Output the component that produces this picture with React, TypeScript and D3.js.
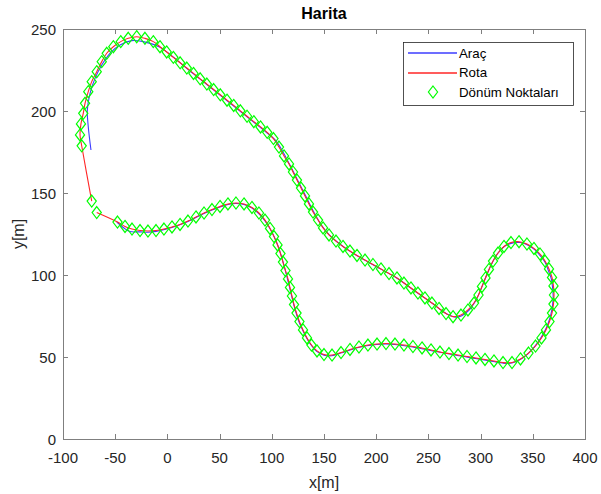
import React from 'react'
import * as d3 from 'd3'

const W = 601
const H = 494
const box = { left: 63, right: 585, top: 29, bottom: 439 }

const xTicks = [-100, -50, 0, 50, 100, 150, 200, 250, 300, 350, 400]
const yTicks = [0, 50, 100, 150, 200, 250]

// Dönüm noktaları, one array per part of the track
const turnsLeft: [number, number][] = [
  [-72.5, 145.1], [-82.1, 178.8], [-83.7, 185.4], [-82.8, 192.1], [-80.6, 198.6], [-78.9, 204.7],
  [-75.8, 211.8], [-72.5, 217.9], [-67.7, 224.0], [-62.9, 230.1], [-58.1, 235.2], [-51.8, 239.2],
  [-44.7, 242.3], [-37.5, 244.3], [-29.4, 245.3], [-21.5, 244.3], [-13.5, 242.3], [-7.1, 239.2],
]
const turnsTop: [number, number][] = [
  [-0.7, 236.0], [5.7, 232.7], [12.2, 229.4], [18.6, 226.2], [25.0, 222.9], [31.4, 219.6],
  [37.8, 216.4], [44.3, 213.1], [50.7, 209.9], [57.1, 206.6], [63.5, 203.4], [69.9, 200.1],
  [76.3, 196.8], [82.8, 193.5], [89.2, 190.3], [95.6, 187.0], [101.6, 183.2], [106.9, 178.0],
  [111.7, 172.6], [116.5, 167.7], [120.3, 162.8], [124.1, 157.9], [128.0, 153.0], [131.8, 148.2],
  [135.6, 143.3], [139.5, 138.4], [144.3, 133.5], [149.1, 128.7], [154.8, 124.4], [161.5, 120.7],
]
const turnsHairpin: [number, number][] = [
  [168.2, 117.4], [174.9, 114.6], [181.6, 111.9], [189.3, 109.1], [196.9, 106.4], [204.6, 103.7],
  [212.3, 100.9], [219.9, 98.2], [226.6, 95.1], [233.3, 92.1], [240.0, 89.0], [246.7, 86.0],
  [253.4, 82.9], [260.2, 79.6], [266.9, 76.5], [273.6, 74.6], [281.2, 75.6], [287.9, 78.7],
  [293.7, 82.9], [298.0, 87.8], [301.3, 93.0], [304.7, 98.2], [308.0, 103.4], [311.9, 108.5],
  [316.7, 113.4], [322.4, 117.4], [329.1, 119.8],
]
const turnsRight: [number, number][] = [
  [336.8, 120.3], [344.4, 118.9], [351.1, 116.2], [356.9, 112.8], [361.7, 108.5], [365.5, 103.7],
  [368.4, 98.5], [369.8, 93.3], [370.3, 87.8], [369.8, 82.3], [368.4, 76.8], [366.0, 71.6],
  [362.6, 66.5], [358.3, 61.6], [352.6, 56.7], [345.9, 52.4], [338.2, 48.8], [330.1, 46.6],
]
const turnsBottom: [number, number][] = [
  [321.5, 46.6], [312.8, 47.6], [304.2, 48.5], [295.6, 49.4], [287.0, 50.3], [278.4, 51.2],
  [269.7, 52.1], [261.1, 53.0], [252.5, 54.3], [243.9, 55.5], [235.2, 56.4], [226.6, 57.3],
  [218.0, 57.9], [209.4, 58.2], [200.8, 57.9], [192.1, 57.3], [183.5, 56.1], [174.9, 54.6],
  [166.3, 52.7], [157.7, 51.2], [150.0, 51.5], [143.3, 53.7], [138.0, 57.3],
]
const turnsHump: [number, number][] = [
  [133.7, 61.6], [129.9, 66.5], [126.5, 71.6], [123.7, 76.8], [121.3, 82.0], [119.3, 87.2],
  [117.4, 92.4], [115.5, 97.6], [113.1, 102.7], [110.7, 107.9], [108.3, 113.1], [105.5, 118.3],
  [102.1, 123.4], [98.3, 128.4], [93.5, 133.5], [87.7, 137.8], [81.0, 141.2], [73.4, 143.3],
  [65.7, 143.9], [58.0, 143.3], [50.4, 141.8], [42.7, 139.9], [35.1, 137.8], [27.4, 135.4],
  [19.7, 132.9], [12.1, 130.8], [4.4, 129.3], [-3.3, 128.0], [-10.9, 127.1], [-18.6, 126.8],
  [-26.2, 127.1], [-33.9, 128.0], [-40.6, 129.6], [-47.8, 132.3], [-67.7, 138.1],
]

// Araç (vehicle trajectory)
const vehicleStart: [number, number][] = [
  [-73.2, 176.2], [-75.8, 190.4], [-76.7, 200.6], [-74.1, 210.8], [-69.3, 219.9], [-62.9, 228.0],
  [-55.0, 235.2], [-45.4, 240.2], [-34.2, 242.9], [-23.1, 242.3], [-7, 238.8],
]
const vehicleTop: [number, number][] = [
  [25, 222.6], [63.5, 203.0], [95.6, 186.5], [103, 182.5], [109, 177], [117, 167.5], [125, 157.5],
  [133, 147.5], [141, 137.5], [148, 130], [155, 124.5], [163, 120],
]
const vehicleHairpin: [number, number][] = [
  [175, 114.4], [197, 106.2], [220, 98], [240, 88.8], [254, 82.6], [263, 78.2], [270, 75.4],
  [276, 74.3], [282, 75.2], [289, 78.6], [295, 84], [299.5, 90], [304.5, 98], [310, 106],
  [316, 112.8], [323, 117.5], [331, 119.6],
]
const vehicleRight: [number, number][] = [
  [338, 119.8], [345, 118.3], [352, 115.3], [357, 111.8], [362, 107.5], [365, 102.5], [367.8, 97.5],
  [369, 92], [369.5, 87.5], [369, 82], [367.5, 76.5], [365, 71], [361.5, 65.8], [357, 61],
  [351.5, 56.2], [345, 51.8], [337.5, 48.3], [330, 46.3],
]
const vehicleBottom: [number, number][] = [
  [321, 46.3], [312, 47.3], [295, 49.1], [270, 51.8], [252, 54.0], [235, 56.1], [218, 57.6],
  [209, 57.9], [200, 57.6], [183, 55.8], [166, 52.4], [157.5, 50.8], [150, 51.1], [143, 53.4], [138, 57],
]
const vehicleHump: [number, number][] = [
  [133.5, 61.5], [129.5, 66.5], [126, 71.5], [123.3, 76.8], [121, 82], [117, 92.5], [113, 102.7],
  [108.5, 112.9], [105.8, 118], [102.5, 123], [98.5, 128], [93.5, 133], [87.5, 137.4], [81, 140.8],
  [73.4, 143], [65.7, 143.6], [58, 143], [50.4, 141.5], [35, 137.5], [19.7, 132.6], [4.4, 129],
  [-10.9, 126.6], [-18.6, 126.1], [-26.2, 126.3], [-36, 126.5], [-42, 128.8], [-48.5, 132.3],
]

const legendLabels = ['Araç', 'Rota', 'Dönüm Noktaları']

const turns = [...turnsLeft, ...turnsTop, ...turnsHairpin, ...turnsRight, ...turnsBottom, ...turnsHump]
const vehicle = [...vehicleStart, ...vehicleTop, ...vehicleHairpin, ...vehicleRight, ...vehicleBottom, ...vehicleHump]

const font = 'Liberation Sans, Arial, Helvetica, sans-serif'
const textColor = '#262626'
const axisColor = '#7f7f7f'
const blue = '#3c3cff'
const red = '#ff2626'
const green = '#00ff00'

// MATLAB style diamond marker
const diamond = (cx: number, cy: number, w = 4.6, h = 6) => {
  const p = d3.path()
  p.moveTo(cx, cy - h)
  p.lineTo(cx + w, cy)
  p.lineTo(cx, cy + h)
  p.lineTo(cx - w, cy)
  p.closePath()
  return p.toString()
}

export default function App() {
  const x = d3.scaleLinear().domain([-100, 400]).range([box.left, box.right])
  const y = d3.scaleLinear().domain([0, 250]).range([box.bottom, box.top])

  const line = d3.line<[number, number]>()
    .x(d => x(d[0]))
    .y(d => y(d[1]))
    .curve(d3.curveCatmullRom)

  const tick = 5
  const lg = { x: 403, y: 42, w: 170, h: 63 }

  return (
    <svg width={W} height={H} style={{ position: 'absolute', left: 0, top: 0, background: '#fff' }}
      fontFamily={font}>
      <rect x={0} y={0} width={W} height={H} fill="#fff" />

      <path d={line(vehicle) || ''} fill="none" stroke={blue} strokeWidth={1.1} />
      <path d={line(turns) || ''} fill="none" stroke={red} strokeWidth={1.1} />
      {turns.map((d, i) => (
        <path key={i} d={diamond(x(d[0]), y(d[1]))} fill="none" stroke={green} strokeWidth={1.2} />
      ))}

      {/* axes box with inward ticks on all sides */}
      <rect x={box.left + 0.5} y={box.top + 0.5} width={box.right - box.left} height={box.bottom - box.top}
        fill="none" stroke={axisColor} strokeWidth={1} />
      {xTicks.map(t => {
        const px = Math.round(x(t)) + 0.5
        return (
          <g key={'x' + t}>
            <line x1={px} x2={px} y1={box.bottom} y2={box.bottom - tick} stroke={axisColor} />
            <line x1={px} x2={px} y1={box.top} y2={box.top + tick} stroke={axisColor} />
            <text x={x(t)} y={457} textAnchor="middle" dominantBaseline="central" fontSize={15} fill={textColor}>{t}</text>
          </g>
        )
      })}
      {yTicks.map(t => {
        const py = Math.round(y(t)) + 0.5
        return (
          <g key={'y' + t}>
            <line x1={box.left} x2={box.left + tick} y1={py} y2={py} stroke={axisColor} />
            <line x1={box.right} x2={box.right - tick} y1={py} y2={py} stroke={axisColor} />
            <text x={56} y={y(t)} textAnchor="end" dominantBaseline="central" fontSize={15} fill={textColor}>{t}</text>
          </g>
        )
      })}

      <text x={(box.left + box.right) / 2} y={13} textAnchor="middle" dominantBaseline="central"
        fontSize={16} fontWeight="bold" fill="#000">Harita</text>
      <text x={(box.left + box.right) / 2} y={482} textAnchor="middle" dominantBaseline="central"
        fontSize={16} fill={textColor}>x[m]</text>
      <text transform={`translate(18,${(box.top + box.bottom) / 2}) rotate(-90)`} textAnchor="middle"
        dominantBaseline="central" fontSize={16} fill={textColor}>y[m]</text>

      {/* legend */}
      <rect x={lg.x + 0.5} y={lg.y + 0.5} width={lg.w} height={lg.h} fill="#fff" stroke="#262626" strokeWidth={0.8} />
      <line x1={408} x2={457} y1={53} y2={53} stroke={blue} strokeWidth={1.4} />
      <line x1={408} x2={457} y1={73} y2={73} stroke={red} strokeWidth={1.4} />
      <path d={diamond(433, 92)} fill="none" stroke={green} strokeWidth={1.2} />
      {legendLabels.map((l, i) => (
        <text key={l} x={459} y={53 + i * 19.5} dominantBaseline="central" fontSize={13.3} fill="#000">{l}</text>
      ))}
    </svg>
  )
}
